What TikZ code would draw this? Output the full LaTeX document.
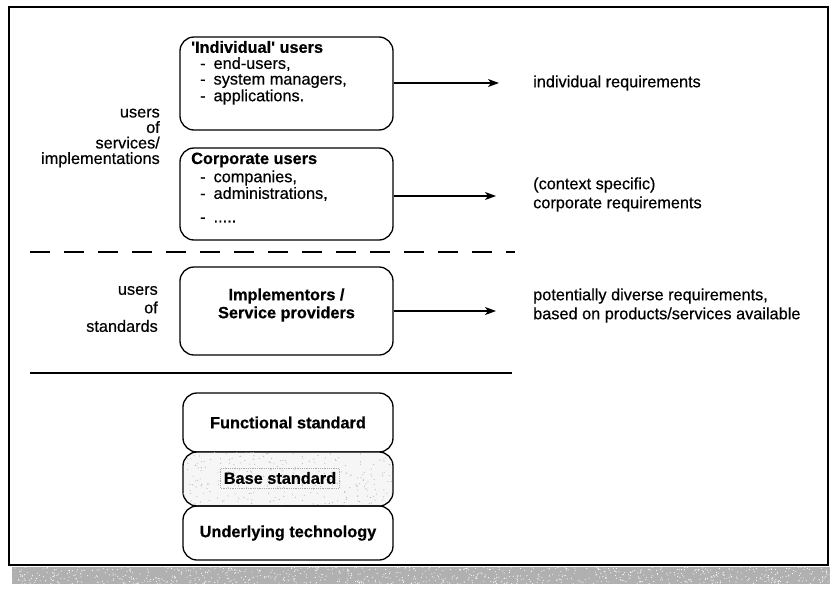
\documentclass[tikz,border=0pt]{standalone}
\usepackage{fontspec}
\setmainfont{Liberation Sans}[UprightFeatures={FakeBold=0.5},BoldFeatures={FakeBold=0.6}]
\newfontfamily\straightq{Liberation Sans}[Ligatures=TeXOff,UprightFeatures={FakeBold=0.5},BoldFeatures={FakeBold=0.6}]
\usetikzlibrary{arrows.meta}
\begin{document}
\begin{tikzpicture}[x=1pt,y=-1pt,
  box/.style={draw, line width=1.3pt, rounded corners=14pt, inner sep=0pt},
  flow/.style={line width=1.1pt, -{Stealth[length=11pt,width=8pt,inset=3pt]}},
  txt/.style={inner sep=0pt, font=\fontsize{16.3}{17}\selectfont},
  ttl/.style={inner sep=0pt, font=\fontsize{16.3}{18}\selectfont\bfseries},
  side/.style={inner sep=0pt, align=right, anchor=east},
]
\useasboundingbox (0,0) rectangle (831,592);

% page frame with its grainy shaded strip underneath
\fill[gray!62] (12,567) rectangle (830,584);
\pgfmathsetseed{41}
\begin{scope}
  \clip (12,567) rectangle (830,584);
  \foreach \k in {1,...,900}
    \fill[white] (12+818*rnd,567+17*rnd) circle (0.55pt);
\end{scope}
\draw[line width=1.4pt] (9,7) rectangle (828,565);

% user groups
\node[box, minimum width=213pt, minimum height=93pt] (indiv) at (286.5,83.5) {};
\node[ttl, anchor=west] (indivT) at (191,47) {\straightq 'Individual' users};
\node[txt, anchor=west] (indiv1) at (200,64) {-\hspace{8pt}end-users,};
\node[txt, anchor=west] (indiv2) at (200,81) {-\hspace{8pt}system managers,};
\node[txt, anchor=west] (indiv3) at (200,97) {-\hspace{8pt}applications.};

\node[box, minimum width=213pt, minimum height=92pt] (corp) at (286.5,194) {};
\node[ttl, anchor=west] (corpT) at (191,160) {Corporate users};
\node[txt, anchor=west] (corp1) at (200,178) {-\hspace{8pt}companies,};
\node[txt, anchor=west] (corp2) at (200,194) {-\hspace{8pt}administrations,};
\node[txt, anchor=west] (corp3) at (200,220) {-\hspace{8pt}.....};

\node[box, minimum width=213pt, minimum height=88pt] (impl) at (286.5,311) {};
\node[ttl, align=center] (implT) at (286.5,305) {Implementors /\\Service providers};

% separators
\draw[line width=1.3pt, dash pattern=on 20pt off 14pt] (30,252) -- (515,252);
\draw[line width=1.3pt] (30,373) -- (512,373);

% standards stack
\node[box, minimum width=210pt, minimum height=59pt] (func) at (288,422.5) {};
\node[ttl] (funcT) at (func.center) {Functional standard};
\node[box, fill=gray!7, minimum width=210pt, minimum height=54pt] (base) at (288,479) {};
\begin{scope}
  \clip[rounded corners=14pt] (base.north west) rectangle (base.south east);
  \foreach \k in {1,...,260}
    \fill[gray!55] (183+210*rnd,452+54*rnd) circle (0.6pt);
\end{scope}
\node[ttl, inner xsep=3pt, inner ysep=4pt, draw=gray!65, densely dotted, line width=0.8pt]
  (baseT) at (280,478) {Base standard};
\node[box, minimum width=210pt, minimum height=54pt] (tech) at (288,533) {};
\node[ttl] (techT) at (tech.center) {Underlying technology};

% requirements
\node[txt, anchor=west] (reqI) at (533,83) {individual requirements};
\node[txt, anchor=west, align=left, font=\fontsize{16.3}{19}\selectfont] (reqC) at (533,194.5)
  {(context specific)\\corporate requirements};
\node[txt, anchor=west, align=left, font=\fontsize{16.3}{19}\selectfont] (reqP) at (533,305.5)
  {potentially diverse requirements,\\based on products/services available};

\coordinate (endI) at (499,83);
\coordinate (endC) at (496,196);
\coordinate (endP) at (496,311);
\draw[flow] (indiv.east |- endI) -- (endI);
\draw[flow] (corp.east |- endC) -- (endC);
\draw[flow] (impl.east |- endP) -- (endP);

% side labels
\node[side, font=\fontsize{16.3}{15.5}\selectfont] (sideU) at (160,138) {users\\of\\services/\\implementations};
\node[side, font=\fontsize{16.3}{18.5}\selectfont] (sideS) at (158,309) {users\\of\\standards};
\end{tikzpicture}
\end{document}
